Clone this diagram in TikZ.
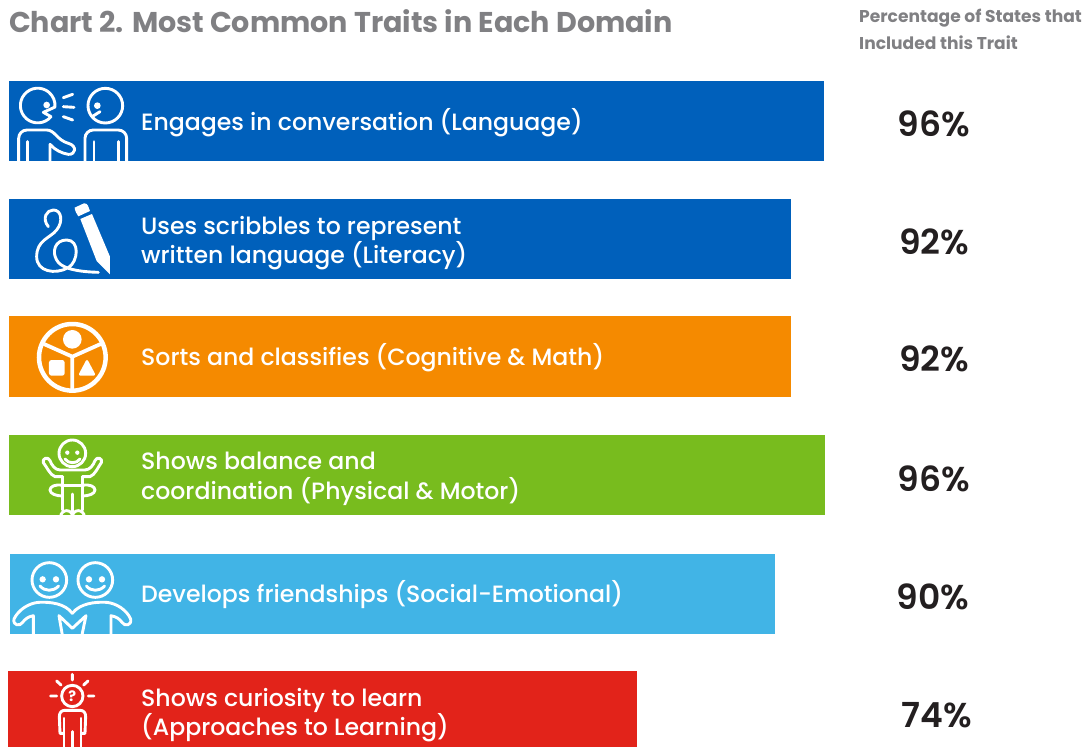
\documentclass[tikz,border=0pt]{standalone}
\usepackage{fontspec}
\setmainfont{Poppins}
\newfontfamily\medfont{Poppins Medium}
\newfontfamily\semifont{Poppins SemiBold}
\definecolor{blueb}{HTML}{0060BB}
\definecolor{orangeb}{HTML}{F58A00}
\definecolor{greenb}{HTML}{78BC1E}
\definecolor{skyb}{HTML}{41B4E6}
\definecolor{redb}{HTML}{E2231A}
\definecolor{greyt}{HTML}{808083}
\definecolor{inkt}{HTML}{231F20}
\tikzset{
  barlabel/.style={anchor=west,align=left,text=white,font=\medfont\fontsize{23.6}{29.5}\selectfont,inner sep=0pt},
  pct/.style={anchor=center,text=inkt,font=\semifont\fontsize{34.5}{36}\selectfont,inner sep=0pt},
  ico/.style={draw=white,line width=2.9pt,line cap=round,line join=round},
  iconat/.style={shift={(0pt,-#1pt)},x=0.3333pt,y=-0.3333pt},
}
\begin{document}
\begin{tikzpicture}[x=1pt,y=-1pt]
\useasboundingbox (0,0) rectangle (1089,747);
\node[anchor=west,inner sep=0pt,text=greyt,font=\fontsize{28.6}{30}\selectfont\bfseries] (title) at (9,21.5) {Chart 2. Most Common Traits in Each Domain};
\node[anchor=north west,inner sep=0pt,align=left,text=greyt,font=\fontsize{17.1}{27.5}\selectfont\bfseries] (head) at (859,8.5) {Percentage of States that\\Included this Trait};
% bars
\fill[blueb] (9,81) rectangle (824,161);
\fill[blueb] (9,199) rectangle (791,279);
\fill[orangeb] (9,316) rectangle (791,397);
\fill[greenb] (9,435) rectangle (825,515);
\fill[skyb] (10,554) rectangle (775,634);
\fill[redb] (8,671) rectangle (637,747);
% labels
\node[barlabel] (l1) at (141,122.5) {Engages in conversation (Language)};
\node[barlabel] (l2) at (141,243) {Uses scribbles to represent\\written language (Literacy)};
\node[barlabel] (l3) at (141,357.5) {Sorts and classifies (Cognitive \& Math)};
\node[barlabel] (l4) at (141,479) {Shows balance and\\coordination (Physical \& Motor)};
\node[barlabel] (l5) at (141,594.5) {Develops friendships (Social-Emotional)};
\node[barlabel] (l6) at (141,715) {Shows curiosity to learn\\(Approaches to Learning)};
% percentages
\node[pct] (p1) at (934,124) {96\%};
\node[pct] (p2) at (934,242) {92\%};
\node[pct] (p3) at (934,359) {92\%};
\node[pct] (p4) at (934,479) {96\%};
\node[pct] (p5) at (933,597) {90\%};
\node[pct] (p6) at (937,715) {74\%};
% icon 1: conversation
\begin{scope}
\clip (9,81) rectangle (824,161);
\begin{scope}[iconat=75]
\draw[ico] (153,125) arc[start angle=40,end angle=365,radius=52] -- (130,112) -- (153,125);
\fill[white] (140,90) circle (10);
\draw[ico] (190,68) -- (218,58) (190,95) -- (222,97) (190,125) -- (218,135);
\draw[ico] (316,92) circle (52);
\draw[ico] (300,110) -- (278,124);
\fill[white] (292,92) circle (10);
\draw[ico] (56,262) -- (56,190) arc[start angle=180,end angle=270,radius=25] -- (140,165) .. controls (165,165) and (170,195) .. (205,205) .. controls (232,212) and (228,240) .. (205,238) .. controls (185,235) and (165,225) .. (150,208) -- (150,262);
\draw[ico] (82,200) -- (82,262);
\draw[ico] (255,262) -- (255,190) arc[start angle=180,end angle=270,radius=25] -- (355,165) arc[start angle=270,end angle=360,radius=25] -- (380,262);
\draw[ico] (282,200) -- (282,262) (355,200) -- (355,262);
\end{scope}
\end{scope}
% icon 2: scribble and pencil
\begin{scope}[iconat=75]
\draw[ico] (145,455) .. controls (125,430) and (140,405) .. (160,405) .. controls (185,405) and (190,440) .. (170,465) .. controls (150,490) and (110,495) .. (110,545) .. controls (110,590) and (165,600) .. (205,578) .. controls (235,560) and (240,495) .. (200,495) .. controls (165,495) and (155,530) .. (170,555) .. controls (180,575) and (215,590) .. (295,592);
\fill[white] (224,398) -- (252,385) .. controls (258,384) and (262,388) .. (264,392) -- (270,408) -- (235,424) -- (228,412) .. controls (226,408) and (224,402) .. (224,398) -- cycle;
\fill[white] (241,432) -- (276,417) -- (330,545) -- (330,598) -- (290,558) -- cycle;
\end{scope}
% icon 3: sorting wheel
\begin{scope}[iconat=310]
\draw[white,line width=4.5pt] (217,142) circle (100);
\fill[white] (217,88) circle (28);
\draw[white,line width=3.8pt] (132,102) -- (217,140) -- (302,102) (217,140) -- (217,240);
\fill[white,rounded corners=2.5pt] (147,150) rectangle (194,197);
\fill[white,rounded corners=2.5pt] (261,146) -- (288,197) -- (234,197) -- cycle;
\end{scope}
% icon 4: child with hoop
\begin{scope}
\clip (9,435) rectangle (825,515);
\begin{scope}[iconat=310]
\draw[ico] (217,430) circle (40);
\fill[white] (202,428) circle (6.5) (232,428) circle (6.5);
\draw[ico] (195,447) .. controls (205,462) and (230,462) .. (240,447);
\draw[ico] (188,500) -- (165,500) .. controls (150,495) and (140,470) .. (130,458) .. controls (125,445) and (145,438) .. (150,452) .. controls (155,465) and (165,480) .. (180,480) -- (255,480) .. controls (270,480) and (280,465) .. (285,452) .. controls (290,438) and (310,445) .. (304,458) .. controls (295,470) and (285,495) .. (270,500) -- (247,500);
\draw[ico] (188,500) -- (188,600) (247,500) -- (247,600) (217,552) -- (217,610);
\draw[ico] (188,526) .. controls (165,522) and (150,530) .. (150,540) .. controls (150,552) and (170,558) .. (188,558);
\draw[ico] (247,526) .. controls (270,522) and (285,530) .. (285,540) .. controls (285,552) and (265,558) .. (247,558);
\draw[ico] (188,526) -- (247,526);
\draw[ico] (200,620) circle (18) (235,620) circle (18);
\end{scope}
\end{scope}
% icon 5: friends
\begin{scope}
\clip (10,554) rectangle (775,634);
\begin{scope}[iconat=545]
\draw[ico] (148,105) circle (52) (286,105) circle (52);
\fill[white] (128,103) circle (9.5) (168,103) circle (9.5) (267,103) circle (9.5) (306,103) circle (9.5);
\draw[ico] (120,123) .. controls (135,140) and (160,140) .. (176,123);
\draw[ico] (259,123) .. controls (274,140) and (298,140) .. (314,123);
\draw[ico] (217,205) .. controls (195,175) and (150,170) .. (115,172) .. controls (85,175) and (55,195) .. (42,222) .. controls (38,242) and (60,245) .. (68,232) .. controls (75,222) and (85,215) .. (100,212) -- (100,270);
\draw[ico] (217,205) .. controls (240,175) and (285,170) .. (320,172) .. controls (350,175) and (380,195) .. (392,222) .. controls (396,242) and (374,245) .. (366,232) .. controls (359,222) and (349,215) .. (333,212) -- (333,270);
\draw[ico] (177,212) -- (187,270) (177,212) -- (217,250) -- (258,212) -- (246,270);
\end{scope}
\end{scope}
% icon 6: curious person
\begin{scope}
\clip (8,671) rectangle (637,747);
\begin{scope}[iconat=545]
\draw[ico] (217,453) circle (32);
\node[inner sep=0pt,text=white,font=\fontsize{14.5}{14.5}\selectfont\bfseries] (q) at (217,453) {?};
\draw[ico] (217,388) -- (217,405) (170,408) -- (183,420) (264,408) -- (251,420) (152,453) -- (170,453) (265,453) -- (282,453);
\draw[ico] (190,565) -- (180,565) -- (178,515) .. controls (178,502) and (185,496) .. (195,496) -- (240,496) .. controls (250,496) and (257,502) .. (257,515) -- (255,565) -- (245,565);
\draw[ico] (192,520) -- (192,610) (243,520) -- (243,610) (217,560) -- (217,610);
\end{scope}
\end{scope}
\end{tikzpicture}
\end{document}
